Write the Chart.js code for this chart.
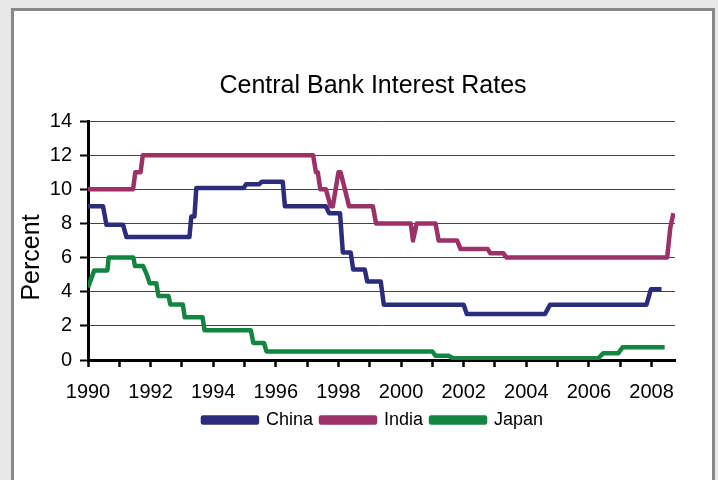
<!DOCTYPE html>
<html>
<head>
<meta charset="utf-8">
<script src="https://cdn.jsdelivr.net/npm/chart.js@4"></script>
<style>
    html, body { margin: 0; padding: 0; background: #e7e7e7; overflow: hidden; }
    body { width: 718px; height: 480px; position: relative; }
    .panel { position: absolute; left: 11px; top: 8px; width: 698px; height: 500px; border: 3px solid #888; background: #fff; }
    .wrap { position: absolute; left: 0; top: 0; width: 740px; height: 480px; }
</style>
</head>
<body>
<div class="panel"></div>
<div class="wrap"><canvas id="chart-rates"></canvas></div>
<script>
const chartTitle = 'Central Bank Interest Rates';
const yTitle = 'Percent';
const seriesNames = ['China', 'India', 'Japan'];
const seriesColors = ['#2b2c7c', '#9b3167', '#138541'];

// policy rate breakpoints (fractional year, percent)
const chinaYears = [1990, 1990.48, 1990.59, 1991.12, 1991.23, 1993.24, 1993.3, 1993.4, 1993.46, 1994.97, 1995.05, 1995.47, 1995.55, 1996.22, 1996.29, 1997.6, 1997.7, 1998.05, 1998.14, 1998.39, 1998.47, 1998.84, 1998.92, 1999.35, 1999.45, 2002.0, 2002.1, 2004.6, 2004.76, 2007.84, 2007.98, 2008.32];
const chinaRates = [9.0, 9.0, 7.92, 7.92, 7.2, 7.2, 8.4, 8.4, 10.08, 10.08, 10.3, 10.3, 10.44, 10.44, 9.0, 9.0, 8.6, 8.6, 6.3, 6.3, 5.3, 5.3, 4.6, 4.6, 3.24, 3.24, 2.7, 2.7, 3.24, 3.24, 4.14, 4.14];

const indiaYears = [1990, 1991.44, 1991.51, 1991.68, 1991.75, 1997.19, 1997.28, 1997.34, 1997.42, 1997.6, 1997.75, 1997.82, 1998.0, 1998.07, 1998.34, 1999.1, 1999.2, 2000.31, 2000.38, 2000.5, 2001.1, 2001.2, 2001.79, 2001.9, 2002.77, 2002.85, 2003.27, 2003.37, 2008.5, 2008.6, 2008.7];
const indiaRates = [10, 10, 11, 11, 12, 12, 11, 11, 10, 10, 9, 9, 11, 11, 9, 9, 8, 8, 7, 8, 8, 7, 7, 6.5, 6.5, 6.25, 6.25, 6.0, 6.0, 7.75, 8.6];

const japanYears = [1990, 1990.2, 1990.62, 1990.66, 1991.45, 1991.5, 1991.76, 1991.88, 1991.97, 1992.18, 1992.25, 1992.57, 1992.63, 1993.03, 1993.09, 1993.66, 1993.72, 1995.2, 1995.28, 1995.62, 1995.7, 2001.0, 2001.1, 2001.52, 2001.66, 2006.3, 2006.46, 2006.94, 2007.08, 2008.42];
const japanRates = [4.25, 5.25, 5.25, 6.0, 6.0, 5.5, 5.5, 5.0, 4.5, 4.5, 3.75, 3.75, 3.25, 3.25, 2.5, 2.5, 1.75, 1.75, 1.0, 1.0, 0.5, 0.5, 0.25, 0.25, 0.1, 0.1, 0.4, 0.4, 0.75, 0.75];

const xMin = 1990, xMax = 2008.75;
const yMin = 0, yMax = 14, yStep = 2;

const fontFamily = '"Liberation Sans", Arial, Helvetica, sans-serif';
Chart.defaults.font.family = fontFamily;
Chart.defaults.color = '#000';

const toPoints = (xs, ys) => xs.map((x, i) => ({ x: x, y: ys[i] }));
const seriesData = [toPoints(chinaYears, chinaRates), toPoints(indiaYears, indiaRates), toPoints(japanYears, japanRates)];

// rotated y-axis caption, sits a little below the plot's middle
const percentLabel = {
    id: 'percentLabel',
    afterDraw(chart) {
        const { ctx, chartArea } = chart;
        ctx.save();
        ctx.translate(32, (chartArea.top + chartArea.bottom) / 2 + 17);
        ctx.rotate(-Math.PI / 2);
        ctx.font = `25px ${fontFamily}`;
        ctx.fillStyle = '#000';
        ctx.textAlign = 'center';
        ctx.textBaseline = 'middle';
        ctx.fillText(yTitle, 0, 0);
        ctx.restore();
    }
};

new Chart(document.getElementById('chart-rates'), {
    type: 'line',
    data: {
        datasets: seriesNames.map((name, i) => ({
            label: name,
            data: seriesData[i],
            borderColor: seriesColors[i],
            backgroundColor: seriesColors[i],
            borderWidth: 4.5,
            borderJoinStyle: 'round',
            pointRadius: 0,
            tension: 0,
            fill: false
        }))
    },
    options: {
        responsive: true,
        maintainAspectRatio: false,
        animation: false,
        layout: { padding: { top: 61, left: 14, right: 8, bottom: 41 } },
        scales: {
            x: {
                type: 'linear', min: xMin, max: xMax,
                border: { color: '#000', width: 3 },
                grid: { drawOnChartArea: false, tickLength: 7, tickColor: '#000', tickWidth: 2.5 },
                ticks: {
                    stepSize: 1, autoSkip: false, maxRotation: 0, includeBounds: false, padding: 13,
                    font: { size: 20 },
                    callback: v => (v % 2 === 0 ? String(v) : '')
                },
                afterFit: s => { s.height = 43; }
            },
            y: {
                min: yMin, max: yMax,
                border: { color: '#000', width: 3 },
                grid: { color: '#444', lineWidth: 1, tickLength: 8, tickColor: '#000', tickWidth: 2 },
                ticks: { stepSize: yStep, padding: 8, font: { size: 20 } },
                afterFit: s => { s.width = 74; }
            },
            // empty right-hand gutter so the title and legend sit centred over the plot
            gutter: {
                type: 'linear', position: 'right', display: true,
                grid: { display: false }, ticks: { display: false }, border: { display: false },
                afterFit: s => { s.width = 57; }
            }
        },
        plugins: {
            title: { display: true, text: chartTitle, color: '#000', font: { size: 25, weight: 'normal' }, padding: { top: 10, bottom: 20 } },
            legend: {
                position: 'bottom',
                labels: { boxWidth: 54, boxHeight: 5, padding: 8, color: '#000', font: { size: 18 } }
            },
            tooltip: { enabled: false }
        }
    },
    plugins: [percentLabel]
});
</script>
</body>
</html>
